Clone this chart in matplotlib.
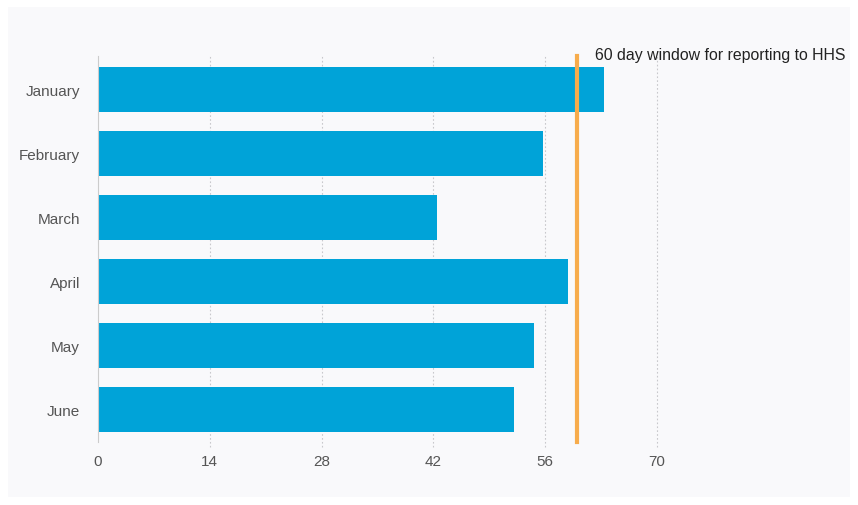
import matplotlib.pyplot as plt
from matplotlib.patches import Rectangle

# monthly reporting time (days)
months = ["January", "February", "March", "April", "May", "June"]
days = [63.4, 55.7, 42.5, 58.9, 54.6, 52.1]
ticks = [0, 14, 28, 42, 56, 70]
window = 60
window_label = "60 day window for reporting to HHS"

plt.rcParams["font.family"] = ["Liberation Sans", "DejaVu Sans"]

fig = plt.figure(figsize=(8.58, 5.06), dpi=100, facecolor="white")
# light panel behind the chart
fig.patches.append(Rectangle((8 / 858, 8 / 506), 842 / 858, 490 / 506,
                             transform=fig.transFigure, facecolor="#f9f9fb",
                             edgecolor="none", zorder=-1))

ax = fig.add_axes([98 / 858, 1 - 442.5 / 506, 744 / 858, 384 / 506])
ax.set_facecolor("none")

y = list(range(len(months)))
ax.barh(y, days, height=0.695, color="#00a3d8", zorder=2)
ax.set_yticks(y)
ax.set_yticklabels(months)
ax.set_ylim(len(months) - 0.5, -0.5)
ax.set_xlim(0, 93.2)
ax.set_xticks(ticks)

for t in ticks[1:]:
    ax.axvline(t, ymin=-0.015, ymax=1.004, color="#c8c8cc", lw=0.8,
               ls=(0, (1.5, 2)), zorder=1, clip_on=False)

ax.axvline(window, ymin=0, ymax=1.004, color="#f7ac4c", lw=3, zorder=3,
           clip_on=False)
ax.text(window + 2.2, -0.55, window_label, ha="left", va="center",
        fontsize=11.4, color="#222222")

for s in ["top", "right", "bottom"]:
    ax.spines[s].set_visible(False)
ax.spines["left"].set_color("#cccccc")
ax.spines["left"].set_bounds(len(months) - 0.5, -0.52)
ax.tick_params(axis="both", length=0, labelsize=11, colors="#555555")
ax.tick_params(axis="x", pad=9)
ax.tick_params(axis="y", pad=13)

fig.savefig("out.png", dpi=100, facecolor="white")
